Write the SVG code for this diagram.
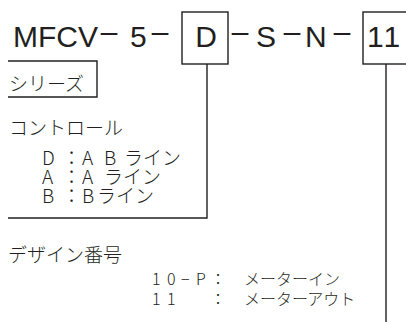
<svg xmlns="http://www.w3.org/2000/svg" width="406" height="324" viewBox="0 0 406 324">
<style>
.code{font-family:"Liberation Sans",Arial,sans-serif;font-size:30px;fill:#231f20}
.dash{font-family:"Liberation Sans",Arial,sans-serif;font-size:28px;fill:#231f20}
.jp{font-family:"Noto Sans CJK JP","Noto Sans",sans-serif;font-size:19px;font-weight:300;fill:#231f20}
.jps{font-family:"Noto Sans CJK JP","Noto Sans",sans-serif;font-size:16px;font-weight:300;fill:#231f20}
.box{fill:none;stroke:#231f20;stroke-width:1.4}
.ln{fill:none;stroke:#231f20;stroke-width:1.4}
</style>
<rect width="406" height="324" fill="#fff"/>
<g id="code-head">
<text class="code" x="13" y="47">MFCV</text>
<text class="dash" x="99" y="43" textLength="20" lengthAdjust="spacingAndGlyphs">−</text>
<text class="code" x="130" y="47">5</text>
<text class="dash" x="150" y="43" textLength="20" lengthAdjust="spacingAndGlyphs">−</text>
</g>
<g id="box-d">
<rect class="box" x="182" y="12" width="46" height="52"/>
<text class="code" x="206" y="47" text-anchor="middle">D</text>
</g>
<g id="code-mid">
<text class="dash" x="230" y="43" textLength="20" lengthAdjust="spacingAndGlyphs">−</text>
<text class="code" x="256" y="47">S</text>
<text class="dash" x="282" y="43" textLength="20" lengthAdjust="spacingAndGlyphs">−</text>
<text class="code" x="305" y="47">N</text>
<text class="dash" x="332" y="43" textLength="20" lengthAdjust="spacingAndGlyphs">−</text>
</g>
<g id="box-11">
<rect class="box" x="363" y="12" width="60" height="52"/>
<text class="code" x="367" y="47" letter-spacing="2">11</text>
</g>
<g id="connectors">
<polyline class="ln" points="8,61 97,61 97,97 8,97"/>
<polyline class="ln" points="207,64 207,218 8,218"/>
<line class="ln" x1="386" y1="64" x2="386" y2="322"/>
</g>
<g id="series">
<text class="jp" x="9" y="91">シリーズ</text>
</g>
<g id="control">
<text class="jp" x="9" y="135">コントロール</text>
<text class="jp" y="165"><tspan x="42">D</tspan><tspan x="62">：</tspan><tspan x="82">A</tspan><tspan x="104">B</tspan><tspan x="124">ライン</tspan></text>
<text class="jp" y="184"><tspan x="42">A</tspan><tspan x="62">：</tspan><tspan x="82">A</tspan><tspan x="104">ライン</tspan></text>
<text class="jp" y="203"><tspan x="42">B</tspan><tspan x="62">：</tspan><tspan x="82">B</tspan><tspan x="97">ライン</tspan></text>
</g>
<g id="design">
<text class="jp" x="8" y="262">デザイン番号</text>
<text class="jps" y="285"><tspan x="152">1</tspan><tspan x="167">0</tspan><tspan x="181">−</tspan><tspan x="196">P</tspan><tspan x="210">：</tspan><tspan x="244">メーターイン</tspan></text>
<text class="jps" y="305"><tspan x="152">1</tspan><tspan x="167">1</tspan><tspan x="210">：</tspan><tspan x="244">メーターアウト</tspan></text>
</g>
</svg>
